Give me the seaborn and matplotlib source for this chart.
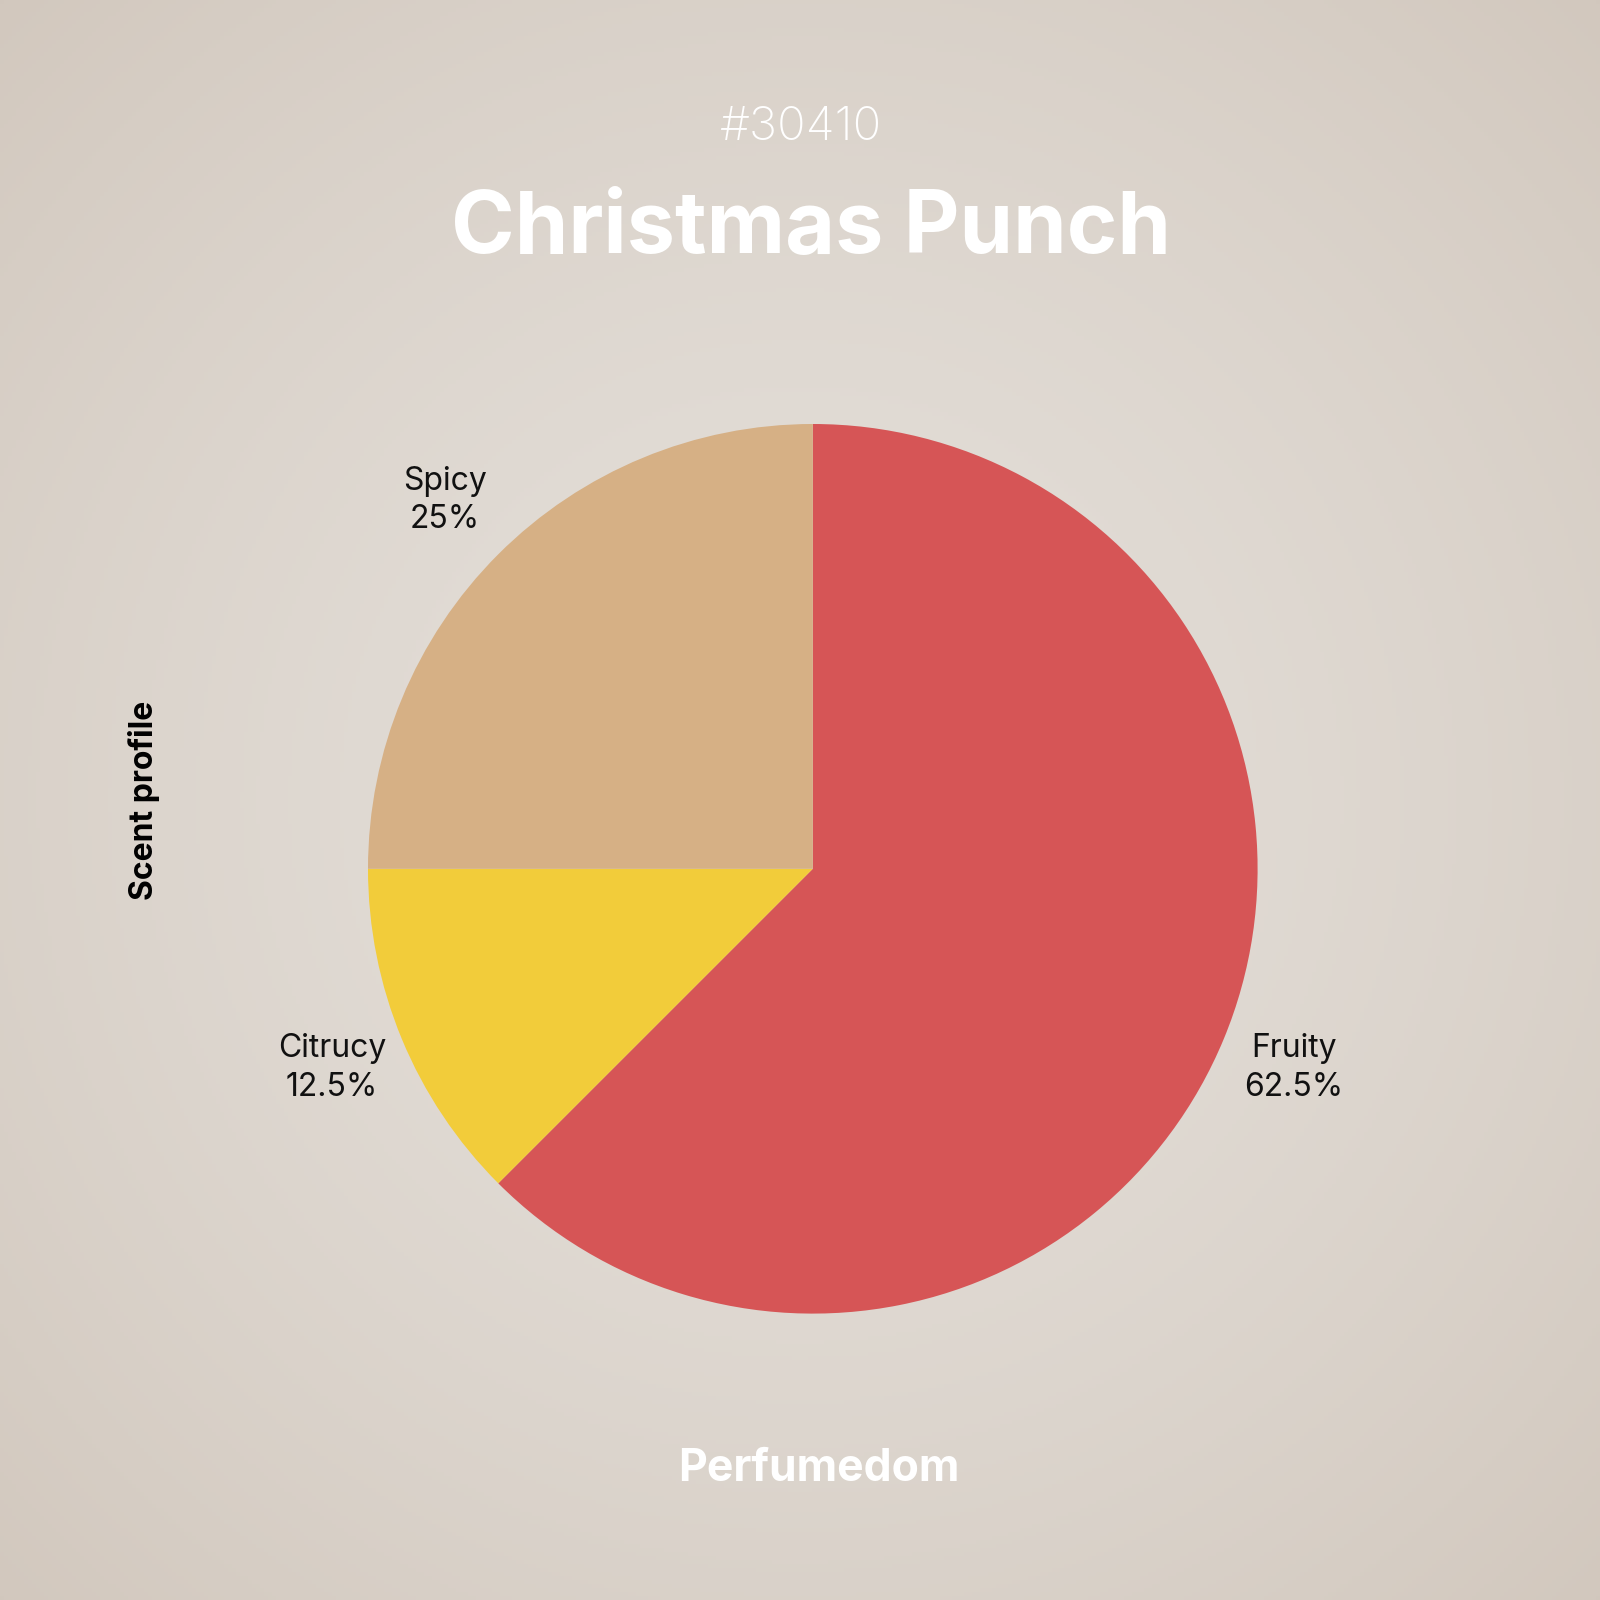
import numpy as np
import matplotlib
matplotlib.use("Agg")
import matplotlib.pyplot as plt
import seaborn as sns

categories = ["Fruity", "Citrucy", "Spicy"]
values = [62.5, 12.5, 25]
pct_labels = ["62.5%", "12.5%", "25%"]
colors = ["#d65556", "#f2cc3a", "#d6b085"]

sns.set_theme(style="white")
plt.rcParams['font.family'] = ['Inter', 'DejaVu Sans']

fig = plt.figure(figsize=(16, 16), dpi=100)
bg = fig.add_axes([0, 0, 1, 1])
yy, xx = np.mgrid[0:1:400j, 0:1:400j]
d = np.sqrt((xx - 0.5) ** 2 + (yy - 0.5) ** 2) / 0.707
c0 = np.array([0xe4, 0xdf, 0xd9]) / 255
c1 = np.array([0xd2, 0xc8, 0xbe]) / 255
img = c0[None, None, :] * (1 - d[..., None] ** 1.5) + c1[None, None, :] * d[..., None] ** 1.5
bg.imshow(np.clip(img, 0, 1), extent=[0, 1, 0, 1], aspect='auto')
bg.axis('off')

r = 0.278
cx, cy = 0.508, 1 - 0.543
ax = fig.add_axes([cx - r, cy - r, 2 * r, 2 * r])
labels = [f"{c}\n{p}" for c, p in zip(categories, pct_labels)]
wedges, texts = ax.pie(values, colors=colors, startangle=90, counterclock=False,
                       labels=labels, labeldistance=1.17,
                       wedgeprops=dict(linewidth=0),
                       textprops=dict(fontsize=23, color="#111111", ha='center', va='center',
                                      linespacing=1.3))
ax.set_xlim(-1, 1)
ax.set_ylim(-1, 1)
ax.set_aspect('equal')

fig.text(0.5, 0.92, "#30410", ha='center', va='center', fontsize=34, color='white', fontweight='light')
fig.text(0.507, 0.856, "Christmas Punch", ha='center', va='center', fontsize=62, color='white', fontweight='bold')
fig.text(0.512, 0.082, "Perfumedom", ha='center', va='center', fontsize=32, color='white', fontweight='bold')
fig.text(0.09, 0.5, "Scent profile", ha='center', va='center', rotation=90, fontsize=23, color='black', fontweight='bold')

fig.savefig("out.png", dpi=100)
